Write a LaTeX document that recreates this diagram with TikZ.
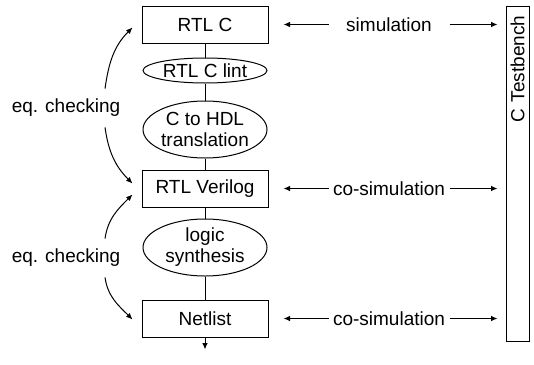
\documentclass[tikz,border=0pt]{standalone}
\usepackage{fontspec}
\setmainfont{Liberation Sans}
\usetikzlibrary{positioning,arrows.meta,shapes.geometric}

\begin{document}
\begin{tikzpicture}[
						x=1pt, y=1pt,
						font=\fontsize{19}{21}\selectfont,
						line width=1pt,
						arr/.style = {-{Latex[length=6.5pt,width=5.5pt]}},
						stage/.style = {draw, rectangle, minimum width=126pt, minimum height=37pt, inner sep=0pt},
						tool/.style = {draw, ellipse, minimum width=124pt, minimum height=57pt, inner sep=0pt, align=center},
						sim/.style = {minimum width=120pt, inner xsep=2pt},
						eq/.style = {inner sep=0pt}
					]
					\useasboundingbox (0,0) rectangle (534,-364);
					\coordinate (col) at (389,0);
					\node[stage] (rtlc) at (205,-24.5) {RTL C};
					\node[tool, minimum height=25pt, text height=13pt, text depth=0pt] (lint) [below=14pt of rtlc] {RTL C lint};
					\node[tool] (hdl) [below=17pt of lint] {C to HDL\\translation};
					\node[stage] (rtlv) [below=11pt of hdl] {RTL Verilog};
					\node[tool] (logic) [below=11pt of rtlv] {logic\\synthesis};
					\node[stage] (net) [below=23pt of logic] {Netlist};
					\coordinate (out) at ([yshift=-12pt]net.south);
					\node[draw, rotate=90, minimum width=335pt, minimum height=23pt,
						inner xsep=9pt, text width=317pt, align=right] (tb) at (517.5,-174) {C Testbench};
					\node[sim] (s0) at (rtlc -| col) {simulation};
					\node[sim] (s1) at (rtlv -| col) {co-simulation};
					\node[sim] (s2) at (net -| col) {co-simulation};
					\node[eq] (eq1) at (66,-108) {eq. checking};
					\node[eq] (eq2) at (66,-258) {eq. checking};
					\draw (rtlc) -- (lint);
					\draw (lint) -- (hdl);
					\draw (hdl) -- (rtlv);
					\draw (rtlv) -- (logic);
					\draw (logic) -- (net);
					\draw[arr] (net) -- (out);
					\foreach \s/\b in {s0/rtlc, s1/rtlv, s2/net} {
						\draw[arr, shorten >=15pt] (\s) -- (\b);
						\draw[arr, shorten >=8pt] (\s) -- (\s -| tb.north);
					}
					\draw[arr] ([xshift=39pt,yshift=10pt]eq1.north) to[out=82, in=225] ([xshift=-9pt,yshift=-3pt]rtlc.west);
					\draw[arr] ([xshift=39pt,yshift=-10pt]eq1.south) to[out=-82, in=135] ([xshift=-9pt,yshift=5pt]rtlv.west);
					\draw[arr] ([xshift=39pt,yshift=10pt]eq2.north) to[out=82, in=225] ([xshift=-9pt,yshift=-6pt]rtlv.west);
					\draw[arr] ([xshift=39pt,yshift=-10pt]eq2.south) to[out=-82, in=135] ([xshift=-9pt,yshift=-1pt]net.west);
				\end{tikzpicture}
\end{document}
